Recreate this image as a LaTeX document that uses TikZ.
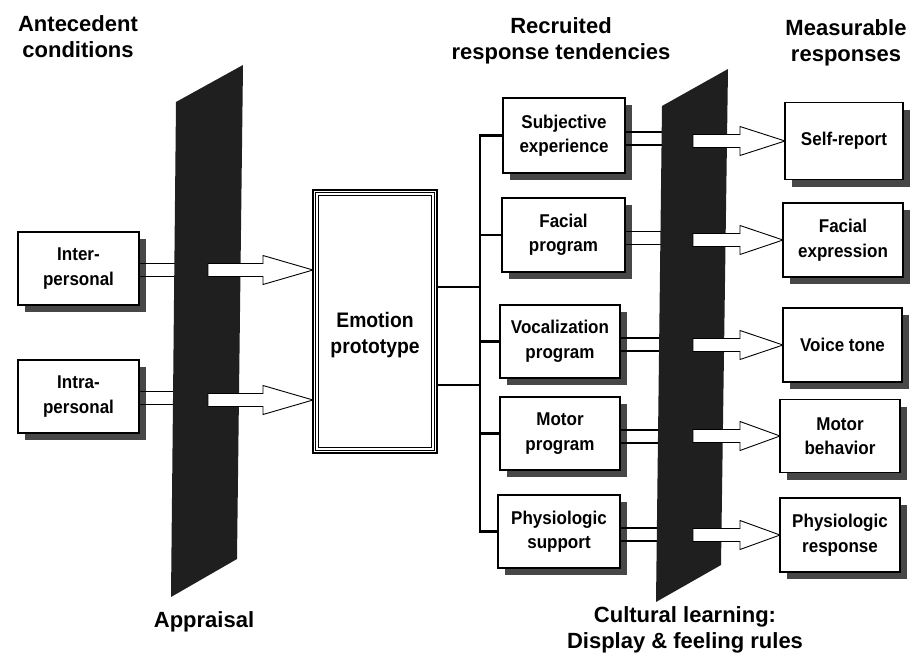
\documentclass[tikz,border=0pt]{standalone}
\usepackage{fontspec}
\setmainfont{Liberation Sans}
\newfontfamily\boxfont{Liberation Sans}[FakeStretch=0.92]
\usetikzlibrary{shadows,calc}
\newcommand\blkarrow[4]{%
  \draw[barrow] (#1,{#4-6.5}) -- (#2,{#4-6.5}) -- (#2,{#4-14.5}) -- (#3,#4)
    -- (#2,{#4+14.5}) -- (#2,{#4+6.5}) -- (#1,{#4+6.5}) -- cycle;}
\begin{document}
\begin{tikzpicture}[x=1pt,y=-1pt,
  box/.style={draw, line width=1.1pt, fill=white, inner sep=0pt, align=center,
    font=\boxfont\bfseries\fontsize{18.5}{24.5}\selectfont,
    drop shadow={shadow xshift=7pt, shadow yshift=-7pt, fill=black!72, opacity=1}},
  head/.style={font=\bfseries\fontsize{22}{26}\selectfont, align=center, inner sep=0pt},
  panel/.style={fill=black!88},
  pipe/.style={line width=1.1pt},
  bus/.style={line width=2.4pt, line cap=rect},
  barrow/.style={draw, fill=white, line width=0.9pt, line join=miter}]
\useasboundingbox (0,0) rectangle (913,664);

% headings
\node[head] (hA) at (78,37) {Antecedent\\conditions};
\node[head] (hR) at (561,41) {Recruited\\response tendencies};
\node[head] (hM) at (846,43) {Measurable\\responses};
\node[head, anchor=base] (hAp) at (204,627) {Appraisal};
\node[head] (hC) at (685,630) {Cultural learning:\\Display \& feeling rules};

% antecedent boxes
\node[box, minimum width=121pt, minimum height=73pt] (inter) at (78.5,268.5) {Inter-\\personal};
\node[box, minimum width=121pt, minimum height=73pt] (intra) at (78.5,396.5) {Intra-\\personal};
\foreach \n in {inter,intra}{
  \draw[pipe] ([yshift=5pt]\n.east) -- ++(45,0);
  \draw[pipe] ([yshift=-8pt]\n.east) -- ++(45,0);
}

% appraisal panel
\fill[panel] (176,102) -- (243,65) -- (237,559) -- (171,597) -- cycle;
\blkarrow{208}{263}{313}{270}
\blkarrow{208}{263}{313}{400}

% emotion prototype
\node[draw, line width=1.2pt, fill=white, minimum width=124pt, minimum height=263pt,
  label={[font=\boxfont\bfseries\fontsize{21}{26}\selectfont, align=center, yshift=-14pt]center:Emotion\\prototype}]
  (emo) at (375,321.5) {};
\draw[line width=0.8pt] ([shift={(3,3)}]emo.north west) rectangle ([shift={(-3,-3)}]emo.south east);
\draw[line width=0.8pt] ([shift={(6,6)}]emo.north west) rectangle ([shift={(-6,-6)}]emo.south east);

% response tendencies
\node[box, minimum width=122pt, minimum height=75pt] (subj) at (564,135.5) {Subjective\\experience};
\node[box, minimum width=123pt, minimum height=74pt] (facp) at (563.5,235) {Facial\\program};
\node[box, minimum width=120pt, minimum height=73pt] (voc) at (560,341.5) {Vocalization\\program};
\node[box, minimum width=120pt, minimum height=73pt] (mot) at (560,433.5) {Motor\\program};
\node[box, minimum width=122pt, minimum height=73pt] (phys) at (559,531.5) {Physiologic\\support};

% bus
\coordinate (bus) at (480,0);
\coordinate (e1) at ([yshift=34.5pt]emo.east);
\coordinate (e2) at ([yshift=-63.5pt]emo.east);
\draw[bus] (subj.west -| bus) -- (phys.west -| bus);
\foreach \n in {subj,facp,voc,mot,phys}{
  \draw[bus] (\n.west -| bus) -- (\n.west);
}
\draw[bus] (e1) -- (e1 -| bus);
\draw[bus] (e2) -- (e2 -| bus);

% pipes to cultural panel
\foreach \n in {subj,facp,voc,mot,phys}{
  \draw[pipe] ([yshift=3.5pt]\n.east) -- ++(50,0);
  \draw[pipe] ([yshift=-9.5pt]\n.east) -- ++(50,0);
}

% cultural panel
\fill[panel] (662,106) -- (728,69) -- (721,565) -- (656,602) -- cycle;
\blkarrow{693}{740}{785}{141}
\blkarrow{693}{740}{783}{240}
\blkarrow{693}{740}{783}{345}
\blkarrow{693}{740}{780}{436}
\blkarrow{693}{740}{780}{535}

% measurable responses
\node[box, minimum width=118pt, minimum height=77pt] (self) at (844,141) {Self-report};
\node[box, minimum width=120pt, minimum height=74pt] (face) at (843,240) {Facial\\expression};
\node[box, minimum width=119pt, minimum height=74pt] (voice) at (842.5,345) {Voice tone};
\node[box, minimum width=120pt, minimum height=73pt] (motb) at (840,436) {Motor\\behavior};
\node[box, minimum width=120pt, minimum height=74pt] (physr) at (840,535) {Physiologic\\response};
\end{tikzpicture}
\end{document}
